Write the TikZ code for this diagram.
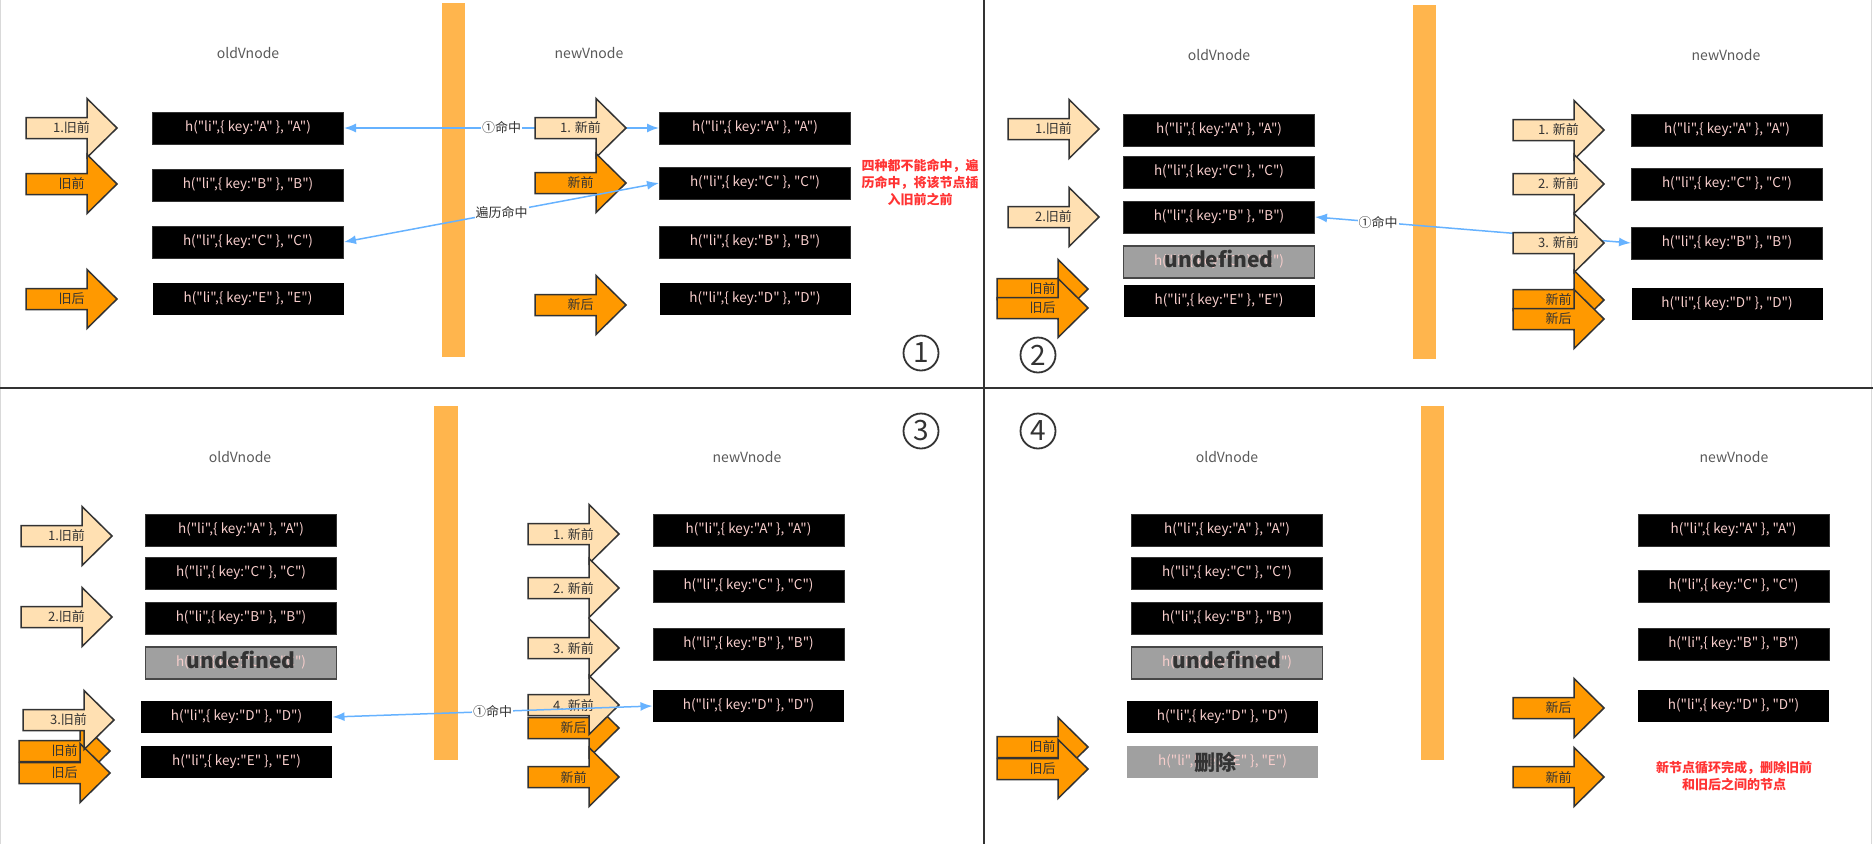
\documentclass[tikz,border=0pt]{standalone}
\usepackage{fontspec}
\setmainfont{Noto Sans CJK SC}
\newfontfamily\codefont{Noto Sans CJK SC}
\usepackage{tikz}
\usetikzlibrary{arrows.meta}

\definecolor{peach}{RGB}{255,224,178}
\definecolor{deeporange}{RGB}{255,153,0}
\definecolor{barorange}{RGB}{255,181,77}
\definecolor{hitblue}{RGB}{102,178,255}
\definecolor{notered}{RGB}{255,51,51}
\definecolor{outline}{RGB}{51,51,51}
\definecolor{vtext}{RGB}{248,206,204}
\definecolor{deadgray}{RGB}{160,160,160}

\newcommand{\hli}[1]{h("li",\{ key:"#1" \}, "#1")}
\newcommand{\fatarrow}[5]{%
  \draw[#1] (#2,#3-10.5) -- ++(61,0) -- ++(0,-19) -- (#2+91,#3) -- (#2+61,#3+29.5) -- ++(0,-19) -- (#2,#3+10.5) -- cycle;
  \node[arrowtext] (#5) at (#2+45.5,#3) {#4};}

\begin{document}
\begin{tikzpicture}[x=1pt, y=-1pt,
  hbox/.style={fill=black, draw=outline, line width=1pt, minimum width=191pt, minimum height=32pt, inner sep=0pt, text=vtext, font=\codefont\fontsize{13.5}{14}\selectfont},
  hboxflat/.style={hbox, draw=none},
  deadbox/.style={hbox, fill=deadgray, draw=outline!90, line width=1.5pt},
  gonebox/.style={hbox, fill=deadgray, draw=none},
  overtext/.style={font=\bfseries\fontsize{21}{21}\selectfont, text=outline, inner sep=0pt},
  arrowtext/.style={font=\fontsize{13}{13}\selectfont, text=outline, inner sep=0pt},
  peacharrow/.style={fill=peach, draw=outline, line width=1.5pt},
  orangearrow/.style={fill=deeporange, draw=outline, line width=1.5pt},
  divbar/.style={fill=barorange},
  colhead/.style={font=\fontsize{14}{14}\selectfont, text=black!65},
  hit/.style={draw=hitblue, line width=1.5pt, {Latex[length=12pt,width=9pt]}-{Latex[length=12pt,width=9pt]}},
  hitlabel/.style={fill=white, inner sep=1pt, font=\fontsize{13}{13}\selectfont, text=outline},
  note/.style={text=notered, font=\bfseries\fontsize{13}{17}\selectfont, align=center},
  stepno/.style={circle, draw=outline, line width=1.8pt, minimum size=35pt, inner sep=0pt, font=\fontsize{28}{28}\selectfont, text=outline}]
\useasboundingbox (0,0) rectangle (1873,844);
\draw[black!15] (0.5,0) -- (0.5,844) (1871.5,0) -- (1871.5,844);
\draw[outline, line width=2pt] (984,0) -- (984,844) (0,388) -- (1873,388);

% step 1
\fill[divbar] (442,3) rectangle (465,357);
\node[colhead] (h1o) at (248,53) {oldVnode};
\node[colhead] (h1n) at (589,53) {newVnode};
\node[hbox] (o1a) at (248,128) {\hli{A}};
\node[hbox] (o1b) at (248,185) {\hli{B}};
\node[hbox] (o1c) at (248,242) {\hli{C}};
\node[hboxflat] (o1e) at (248,299) {\hli{E}};
\node[hbox] (n1a) at (755,128) {\hli{A}};
\node[hbox] (n1c) at (755,183) {\hli{C}};
\node[hbox] (n1b) at (755,242) {\hli{B}};
\node[hboxflat] (n1d) at (755,299) {\hli{D}};
\draw[hit] (o1a.east) -- node[hitlabel] {①命中} (n1a.west);
\fatarrow{peacharrow}{26}{128}{1.旧前}{a1os}
\fatarrow{orangearrow}{26}{184}{旧前}{a1of}
\fatarrow{orangearrow}{26}{299}{旧后}{a1oe}
\fatarrow{peacharrow}{535}{128}{1. 新前}{a1ns}
\fatarrow{orangearrow}{535}{183}{新前}{a1nf}
\fatarrow{orangearrow}{535}{305}{新后}{a1ne}
\draw[hit] (o1c.east) -- node[hitlabel] {遍历命中} (n1c.west);
\node[note] (t1) at (920,182) {四种都不能命中，遍\\历命中，将该节点插\\入旧前之前};
\node[stepno] (c1) at (921,353) {1};

% step 2
\fill[divbar] (1413,5) rectangle (1436,359);
\node[colhead] (h2o) at (1219,55) {oldVnode};
\node[colhead] (h2n) at (1726,55) {newVnode};
\node[hbox] (o2a) at (1219,130) {\hli{A}};
\node[hbox] (o2c) at (1219,172) {\hli{C}};
\node[hbox] (o2b) at (1219,217) {\hli{B}};
\node[deadbox] (o2u) at (1219,262) {\hli{C}};
\node[overtext] (u2) at (1219,259) {undefined};
\node[hboxflat] (o2e) at (1219,301) {\hli{E}};
\node[hbox] (n2a) at (1727,130) {\hli{A}};
\node[hbox] (n2c) at (1727,184) {\hli{C}};
\node[hbox] (n2b) at (1727,243) {\hli{B}};
\node[hboxflat] (n2d) at (1727,304) {\hli{D}};
\draw[hit] (o2b.east) -- node[hitlabel, pos=.2] {①命中} (n2b.west);
\fatarrow{peacharrow}{1008}{129}{1.旧前}{a2os}
\fatarrow{peacharrow}{1008}{217}{2.旧前}{a2ot}
\fatarrow{orangearrow}{997}{289}{旧前}{a2of}
\fatarrow{orangearrow}{997}{308}{旧后}{a2oe}
\fatarrow{peacharrow}{1513}{130}{1. 新前}{a2ns}
\fatarrow{peacharrow}{1513}{184}{2. 新前}{a2nt}
\fatarrow{peacharrow}{1513}{243}{3. 新前}{a2nu}
\fatarrow{orangearrow}{1513}{300}{新前}{a2nf}
\fatarrow{orangearrow}{1513}{319}{新后}{a2ne}
\node[stepno] (c2) at (1038,355) {2};

% step 3
\fill[divbar] (434,406) rectangle (458,760);
\node[colhead] (h3o) at (240,457) {oldVnode};
\node[colhead] (h3n) at (747,457) {newVnode};
\node[hbox] (o3a) at (241,530) {\hli{A}};
\node[hbox] (o3c) at (241,573) {\hli{C}};
\node[hbox] (o3b) at (241,618) {\hli{B}};
\node[deadbox] (o3u) at (241,663) {\hli{C}};
\node[overtext] (u3) at (241,660) {undefined};
\node[hboxflat] (o3d) at (236.5,717) {\hli{D}};
\node[hboxflat] (o3e) at (236.5,762) {\hli{E}};
\node[hbox] (n3a) at (748.5,530) {\hli{A}};
\node[hbox] (n3c) at (748.5,586) {\hli{C}};
\node[hbox] (n3b) at (748.5,644) {\hli{B}};
\node[hboxflat] (n3d) at (748.5,706) {\hli{D}};
\fatarrow{peacharrow}{21}{536}{1.旧前}{a3os}
\fatarrow{peacharrow}{21}{617}{2.旧前}{a3ot}
\fatarrow{orangearrow}{19}{751}{旧前}{a3of}
\fatarrow{orangearrow}{19}{773}{旧后}{a3oe}
\fatarrow{peacharrow}{23}{720}{3.旧前}{a3ou}
\fatarrow{orangearrow}{528}{728}{新后}{a3ne}
\fatarrow{orangearrow}{528}{777}{新前}{a3nf}
\fatarrow{peacharrow}{528}{534}{1. 新前}{a3ns}
\fatarrow{peacharrow}{528}{588}{2. 新前}{a3nt}
\fatarrow{peacharrow}{528}{648}{3. 新前}{a3nu}
\fatarrow{peacharrow}{528}{705}{4. 新前}{a3nv}
\draw[hit] (o3d.east) -- node[hitlabel] {①命中} (n3d.west);
\node[stepno] (c3) at (921,431) {3};

% step 4
\fill[divbar] (1421,406) rectangle (1444,760);
\node[colhead] (h4o) at (1227,457) {oldVnode};
\node[colhead] (h4n) at (1734,457) {newVnode};
\node[hbox] (o4a) at (1227,530) {\hli{A}};
\node[hbox] (o4c) at (1227,573) {\hli{C}};
\node[hbox] (o4b) at (1227,618) {\hli{B}};
\node[deadbox] (o4u) at (1227,663) {\hli{C}};
\node[overtext] (u4) at (1227,660) {undefined};
\node[hboxflat] (o4d) at (1222.5,717) {\hli{D}};
\node[gonebox] (o4e) at (1222.5,762) {\hli{E}};
\node[overtext] (x4) at (1215,762) {删除};
\node[hbox] (n4a) at (1733.5,530) {\hli{A}};
\node[hbox] (n4c) at (1733.5,586) {\hli{C}};
\node[hbox] (n4b) at (1733.5,644) {\hli{B}};
\node[hboxflat] (n4d) at (1733.5,706) {\hli{D}};
\fatarrow{orangearrow}{997}{747}{旧前}{a4of}
\fatarrow{orangearrow}{997}{769}{旧后}{a4oe}
\fatarrow{orangearrow}{1513}{708}{新后}{a4ne}
\fatarrow{orangearrow}{1513}{777}{新前}{a4nf}
\node[note] (t4) at (1734,776) {新节点循环完成，删除旧前\\和旧后之间的节点};
\node[stepno] (c4) at (1038,431) {4};
\end{tikzpicture}
\end{document}
